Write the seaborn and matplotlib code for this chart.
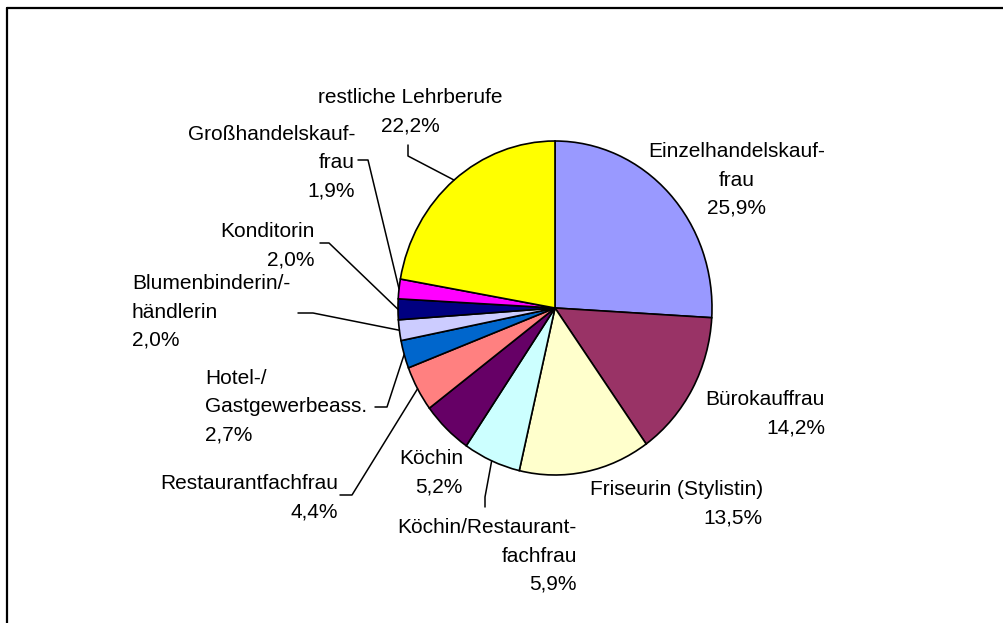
import numpy as np
import matplotlib
matplotlib.use("Agg")
import matplotlib.pyplot as plt
from matplotlib.lines import Line2D
import seaborn as sns

# data
berufe = ["Einzelhandelskauf-\nfrau", "Bürokauffrau", "Friseurin (Stylistin)",
          "Köchin/Restaurant-\nfachfrau", "Köchin", "Restaurantfachfrau",
          "Hotel-/\nGastgewerbeass.", "Blumenbinderin/-\nhändlerin", "Konditorin",
          "Großhandelskauf-\nfrau", "restliche Lehrberufe"]
anteile = [25.9, 14.2, 13.5, 5.9, 5.2, 4.4, 2.7, 2.0, 2.0, 1.9, 22.2]
farben = ["#9999FF", "#993366", "#FFFFCC", "#CCFFFF", "#660066", "#FF8080",
          "#0066CC", "#CCCCFF", "#000080", "#FF00FF", "#FFFF00"]

# layout in pixels: label anchor (x, y, ha) and leader line points from label towards wedge
label_pos = [(737, 180, "center"), (825, 414, "right"), (763, 504, "right"),
             (577, 556, "right"), (463, 473, "right"), (338, 498, "right"),
             (205, 407, "left"), (132, 312, "left"), (315, 246, "right"),
             (355, 163, "right"), (410, 112, "center")]
leader = [None, None, None,
          [(485, 507), (485, 497)], None, [(340, 495), (352, 495)],
          [(375, 407), (387, 407)], [(298, 313), (313, 313)], [(320, 243), (329, 243)],
          [(358, 160), (368, 160)], [(408, 145), (408, 156)]]

W, H = 1004, 623
CX, CY = 555, 308      # pie centre in pixels
RX, RY = 157, 167      # pie radii in pixels (chart is slightly stretched)


def px(x, y):
    return (x - CX) / RX, (CY - y) / RY


sns.set_theme(style="white")
plt.rcParams['font.family'] = ['Liberation Sans', 'DejaVu Sans']

fig = plt.figure(figsize=(W / 100, H / 100), dpi=100)
ax = fig.add_axes([0, 0, 1, 1])
wedges, _ = ax.pie(anteile, colors=farben, startangle=90, counterclock=False,
                   wedgeprops=dict(edgecolor="black", linewidth=1.2))
ax.set_aspect("auto")
ax.set_xlim(-CX / RX, (W - CX) / RX)
ax.set_ylim((CY - H) / RY, CY / RY)
ax.axis("off")

for w, name, val, (lx, ly, ha), pts in zip(wedges, berufe, anteile, label_pos, leader):
    txt = name + "\n" + f"{val:.1f}%".replace(".", ",")
    tx, ty = px(lx, ly)
    ax.text(tx, ty, txt, ha=ha, va="center", fontsize=15, linespacing=1.62, color="black")
    if pts is not None:
        mid = np.deg2rad((w.theta1 + w.theta2) / 2)
        xs = [px(p[0], p[1])[0] for p in pts] + [np.cos(mid)]
        ys = [px(p[0], p[1])[1] for p in pts] + [np.sin(mid)]
        ax.plot(xs, ys, color="black", lw=1.1)

# outer frame (only top and left visible in the crop)
fig.add_artist(Line2D([7 / W, 1.01], [1 - 8 / H, 1 - 8 / H], color="black", lw=1.6))
fig.add_artist(Line2D([7 / W, 7 / W], [-0.01, 1 - 8 / H], color="black", lw=1.6))

fig.savefig("out.png", dpi=100)
